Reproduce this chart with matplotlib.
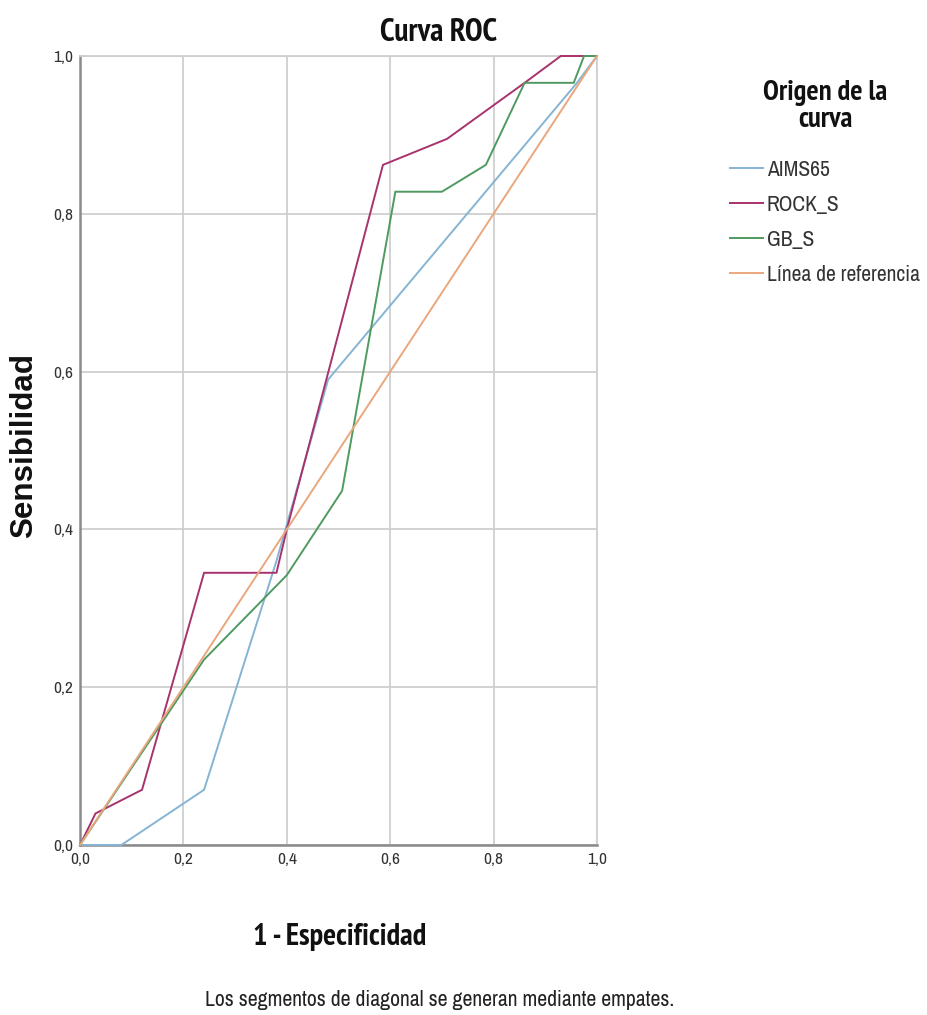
import matplotlib
matplotlib.use("Agg")
import matplotlib.pyplot as plt
from matplotlib import font_manager as fm
from matplotlib.ticker import FixedLocator, FuncFormatter

# ---------------- data ----------------
aims65_x = [0.0, 0.08, 0.24, 0.38, 0.48, 0.96, 1.0]
aims65_y = [0.0, 0.0, 0.07, 0.36, 0.59, 0.965, 1.0]

rock_x = [0.0, 0.03, 0.12, 0.24, 0.38, 0.40, 0.586, 0.71, 0.86, 0.93, 1.0]
rock_y = [0.0, 0.04, 0.07, 0.345, 0.345, 0.40, 0.862, 0.895, 0.966, 1.0, 1.0]

gb_x = [0.0, 0.24, 0.40, 0.507, 0.61, 0.70, 0.785, 0.86, 0.955, 0.975, 1.0]
gb_y = [0.0, 0.235, 0.342, 0.449, 0.828, 0.828, 0.862, 0.966, 0.966, 1.0, 1.0]

ref_x = [0.0, 1.0]
ref_y = [0.0, 1.0]

series_names = ["AIMS65", "ROCK_S", "GB_S", "Línea de referencia"]
series_colors = ["#86b4d4", "#a8336c", "#4f9a60", "#eaa77c"]
ticks = [0.0, 0.2, 0.4, 0.6, 0.8, 1.0]

# ---------------- fonts ----------------
weights = {}
for f in fm.fontManager.ttflist:
    w = f.weight if isinstance(f.weight, int) else (700 if str(f.weight) == "bold" else 400)
    weights.setdefault(f.name, set()).add(w)
narrow_candidates = ["Liberation Sans Narrow", "Arial Narrow", "Archivo Narrow",
                     "PT Sans Narrow", "Roboto Condensed", "Pragati Narrow",
                     "IBM Plex Sans Condensed", "Asap Condensed",
                     "Encode Sans Condensed", "Barlow Semi Condensed",
                     "Liberation Sans"]


def pick(cands, need_bold):
    for n in cands:
        ws = weights.get(n)
        if ws and (400 in ws or not need_bold) and (not need_bold or max(ws) >= 700):
            return n
    return "DejaVu Sans"


NARROW = pick(narrow_candidates, False)
NARROW_B = pick(narrow_candidates, True)
WIDE = pick(["Liberation Sans", "Arimo", "DejaVu Sans"], True)
plt.rcParams['font.family'] = [NARROW, 'DejaVu Sans']

# ---------------- figure ----------------
W, H = 927, 1015
fig = plt.figure(figsize=(W / 100, H / 100), dpi=100)
renderer = fig.canvas.get_renderer()
ax = fig.add_axes([80 / W, 1 - 845 / H, (597 - 80) / W, (845 - 56) / H])


def fit(t, target, vertical=False):
    """scale a text's font size so its extent matches the reference width"""
    for _ in range(3):
        bb = t.get_window_extent(renderer)
        cur = bb.height if vertical else bb.width
        t.set_fontsize(t.get_fontsize() * target / cur)
    return t


for xs, ys, name, col in zip([aims65_x, rock_x, gb_x, ref_x],
                             [aims65_y, rock_y, gb_y, ref_y],
                             series_names, series_colors):
    ax.plot(xs, ys, color=col, lw=1.4, label=name, zorder=3,
            solid_joinstyle='miter', clip_on=False)

ax.set_xlim(0, 1)
ax.set_ylim(0, 1)
ax.xaxis.set_major_locator(FixedLocator(ticks))
ax.yaxis.set_major_locator(FixedLocator(ticks))
fmt = FuncFormatter(lambda v, p: f"{v:.1f}".replace(".", ","))
ax.xaxis.set_major_formatter(fmt)
ax.yaxis.set_major_formatter(fmt)

probe = fig.text(0, 0, "0,0", fontsize=10)
fit(probe, 20)
tick_fs = probe.get_fontsize()
probe.remove()
ax.tick_params(length=0, labelsize=tick_fs, colors="#333333", pad=5)

ax.grid(True, color="#cfcfcf", lw=1.3, zorder=0)
ax.set_axisbelow(True)
for s in ["top", "right"]:
    ax.spines[s].set_color("#cfcfcf")
    ax.spines[s].set_linewidth(1.3)
for s in ["left", "bottom"]:
    ax.spines[s].set_color("#8a8a8a")
    ax.spines[s].set_linewidth(1.8)

bold_fam = [NARROW_B, 'DejaVu Sans']
# titles / labels
t = fig.text(438 / W, 1 - 33 / H, "Curva ROC", ha="center", va="center",
             fontsize=15, fontweight="bold", color="#111111", family=bold_fam)
fit(t, 117)
t = fig.text(340 / W, 1 - 937 / H, "1 - Especificidad", ha="center", va="center",
             fontsize=15, fontweight="bold", color="#111111", family=bold_fam)
fit(t, 173)
t = fig.text(24 / W, 1 - 445 / H, "Sensibilidad", ha="center", va="center",
             rotation=90, fontsize=18, fontweight="bold", color="#111111",
             family=[WIDE, 'DejaVu Sans'])
fit(t, 185, vertical=True)
t = fig.text(440 / W, 1 - 1000 / H,
             "Los segmentos de diagonal se generan mediante empates.",
             ha="center", va="center", fontsize=12, color="#222222")
fit(t, 469)

# legend title
t1 = fig.text(825 / W, 1 - 93 / H, "Origen de la", ha="center", va="center",
              fontsize=14, fontweight="bold", color="#111111", family=bold_fam)
fit(t1, 124)
fig.text(825 / W, 1 - 120 / H, "curva", ha="center", va="center",
         fontsize=t1.get_fontsize(), fontweight="bold", color="#111111",
         family=bold_fam)

probe = fig.text(0, 0, "Línea de referencia", fontsize=11)
fit(probe, 153)
leg_fs = probe.get_fontsize()
probe.remove()

handles, labels = ax.get_legend_handles_labels()
row_px = 35.0
fs_px = leg_fs * 100 / 72


def make_legend(spacing):
    return fig.legend(handles, labels, loc="upper left",
                      bbox_to_anchor=(730 / W, 1 - 160 / H),
                      frameon=False, fontsize=leg_fs, handlelength=33 / fs_px,
                      handletextpad=4 / fs_px, labelspacing=spacing,
                      borderpad=0, borderaxespad=0)


spacing = 0.8
for _ in range(3):
    leg = make_legend(spacing)
    fig.canvas.draw()
    lines = leg.get_lines()
    ys = [ln.get_window_extent(renderer).y0 for ln in lines]
    cur = (ys[0] - ys[-1]) / (len(ys) - 1)
    spacing = max(0.1, spacing + (row_px - cur) / fs_px)
    leg.remove()
leg = make_legend(spacing)
for tx in leg.get_texts():
    tx.set_color("#333333")
for l in leg.get_lines():
    l.set_linewidth(1.4)

fig.savefig("out.png", dpi=100, facecolor="white")
